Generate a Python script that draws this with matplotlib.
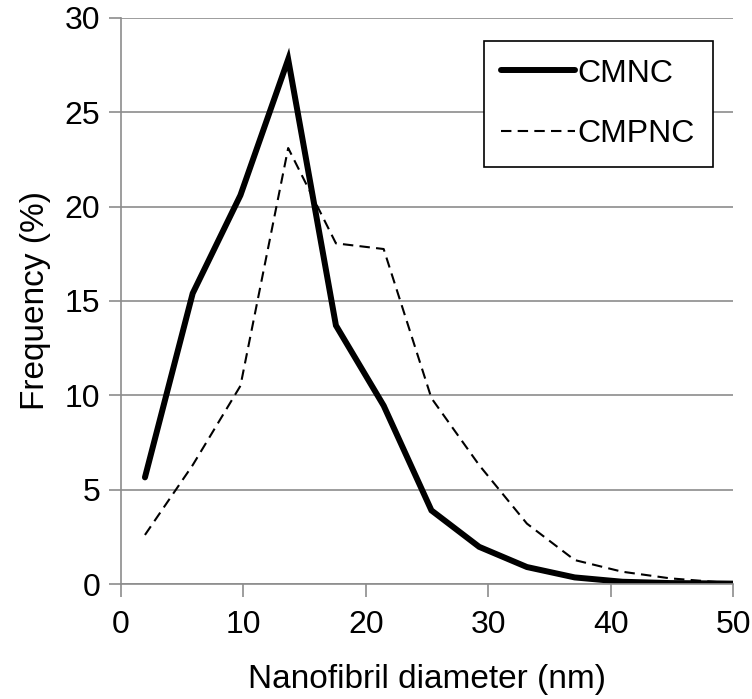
import matplotlib
matplotlib.use("Agg")
import matplotlib.pyplot as plt

plt.rcParams['font.family'] = ['Liberation Sans', 'DejaVu Sans']

diam = [1.95, 5.85, 9.75, 13.65, 17.55, 21.45, 25.35, 29.25, 33.15, 37.05, 40.95, 44.85, 48.75, 52.65]
cmnc = [5.65, 15.4, 20.6, 27.8, 13.7, 9.45, 3.9, 1.97, 0.9, 0.35, 0.12, 0.05, 0.03, 0.0]
cmpnc = [2.6, 6.3, 10.5, 23.1, 18.05, 17.75, 9.85, 6.3, 3.2, 1.27, 0.65, 0.3, 0.1, 0.05]

xticks = [0, 10, 20, 30, 40, 50]
yticks = [0, 5, 10, 15, 20, 25, 30]

fig = plt.figure(figsize=(7.52, 6.99), dpi=100)
ax = fig.add_axes([0.161, 0.1645, 0.814, 0.81])

ax.plot(diam, cmnc, color='black', lw=4.3, solid_joinstyle='miter',
        solid_capstyle='round', label='CMNC')
ax.plot(diam, cmpnc, color='black', lw=1.5, ls=(0, (5, 3)), label='CMPNC')

ax.set_xlim(0, 50)
ax.set_ylim(0, 30)
ax.set_xticks(xticks)
ax.set_yticks(yticks)
ax.grid(axis='y', color='#8c8c8c', lw=1.2)
ax.set_axisbelow(True)
for s in ['top', 'right']:
    ax.spines[s].set_visible(False)
for s in ['left', 'bottom']:
    ax.spines[s].set_color('#8c8c8c')
    ax.spines[s].set_linewidth(1.2)
ax.tick_params(axis='both', colors='#8c8c8c', labelcolor='black', labelsize=23,
               length=9, width=1.2, direction='out')
ax.tick_params(axis='x', pad=10)
ax.tick_params(axis='y', pad=6)

ax.set_xlabel('Nanofibril diameter (nm)', fontsize=24, labelpad=17)
ax.set_ylabel('Frequency (%)', fontsize=24, labelpad=10)

leg = ax.legend(loc='upper right', bbox_to_anchor=(0.9665, 0.9589), fontsize=23,
                frameon=True, fancybox=False, edgecolor='black', framealpha=1,
                handlelength=2.3, handletextpad=0.1, labelspacing=0.95,
                borderpad=0.55, borderaxespad=0)
leg.get_frame().set_linewidth(1.2)

fig.savefig('out.png', dpi=100)
